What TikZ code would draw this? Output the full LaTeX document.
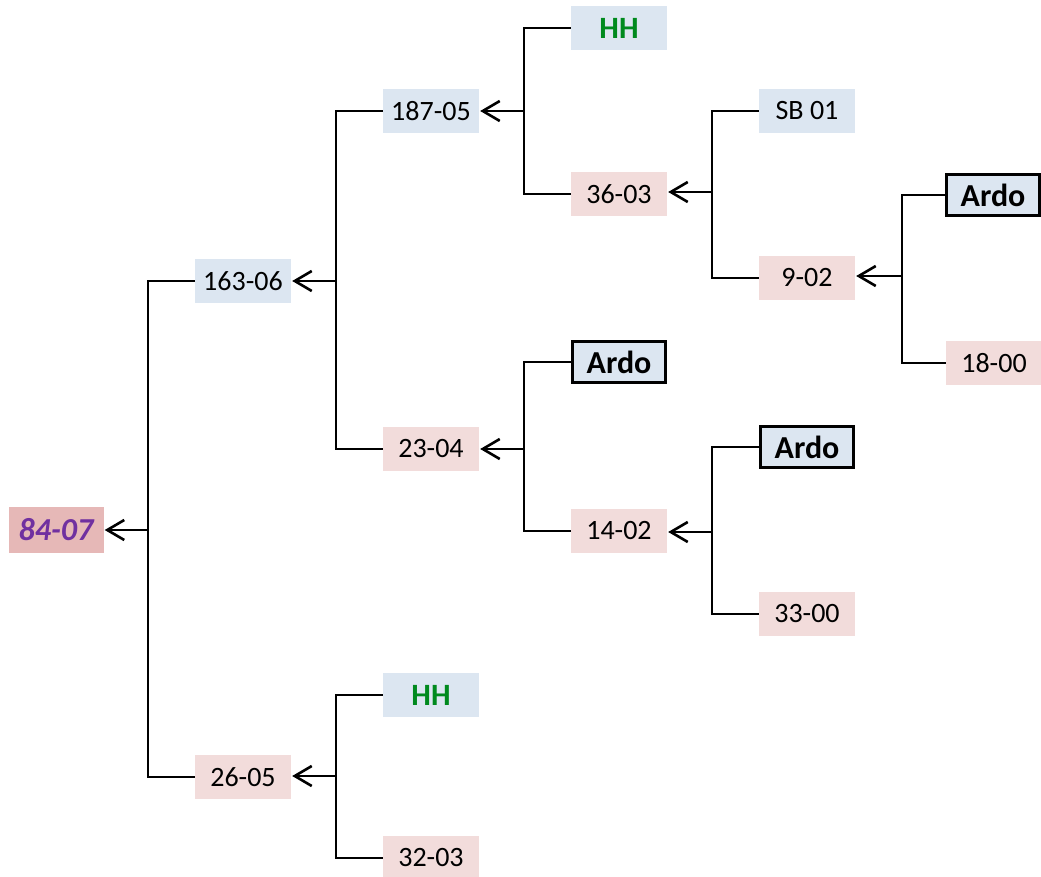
\documentclass[tikz,border=0pt]{standalone}
\usepackage{fontspec}
\setmainfont{Carlito}
\usetikzlibrary{arrows.meta}
\definecolor{lblue}{HTML}{DCE6F1}
\definecolor{lpink}{HTML}{F2DCDB}
\definecolor{rpink}{HTML}{E6B8B7}
\definecolor{hhgreen}{HTML}{008A1E}
\definecolor{rootpurple}{HTML}{7030A0}
\tikzset{
  box/.style={minimum width=96pt, minimum height=44pt, inner sep=0pt, font=\fontsize{28}{30}\selectfont},
  bbox/.style={box, fill=lblue},
  pbox/.style={box, fill=lpink},
  ardo/.style={box, fill=lblue, draw=black, line width=2.5pt, minimum width=93pt, minimum height=41pt, font=\fontsize{32}{34}\selectfont\bfseries},
  hh/.style={box, fill=lblue, text=hhgreen, font=\fontsize{31}{34}\selectfont\bfseries},
  link/.style={line width=2pt},
  arr/.style={line width=2.6pt, -{Straight Barb[length=17pt,width=20pt,line width=2.6pt]}, shorten >=1pt}
}
\begin{document}
\begin{tikzpicture}[x=1pt,y=-1pt]
\useasboundingbox (0,0) rectangle (1041,877);
% nodes
\node[box, fill=rpink, minimum width=95pt, minimum height=46pt, text=rootpurple, font=\fontsize{32}{34}\selectfont\bfseries\itshape] (r) at (56,530) {84-07};
\node[bbox] (a) at (243,281) {163-06};
\node[pbox] (b) at (243,777) {26-05};
\node[bbox] (a1) at (431,111) {187-05};
\node[pbox] (a2) at (431,449) {23-04};
\node[hh] (b1) at (431,695) {HH};
\node[pbox] (b2) at (431,858) {32-03};
\node[hh] (a11) at (619,28) {HH};
\node[pbox] (a12) at (619,194) {36-03};
\node[ardo] (a21) at (619,362) {Ardo};
\node[pbox] (a22) at (619,531) {14-02};
\node[bbox] (a121) at (807,111) {SB 01};
\node[pbox] (a122) at (807,278) {9-02};
\node[ardo] (a221) at (807,447) {Ardo};
\node[pbox] (a222) at (807,614) {33-00};
\node[ardo] (a1221) at (993,195) {Ardo};
\node[pbox] (a1222) at (994,363) {18-00};
% junctions
\coordinate (jr) at (148,530);
\coordinate (ja) at (336,281);
\coordinate (jb) at (336,776);
\coordinate (ja1) at (524,111);
\coordinate (ja2) at (524,449);
\coordinate (ja12) at (712,192);
\coordinate (ja22) at (712,532);
\coordinate (ja122) at (902,276);
% brackets
\foreach \j/\c/\d in {jr/a/b, ja/a1/a2, jb/b1/b2, ja1/a11/a12, ja2/a21/a22, ja12/a121/a122, ja22/a221/a222, ja122/a1221/a1222}{
  \draw[link] (\c.west) -- (\c.west -| \j) -- (\d.west -| \j) -- (\d.west);
}
% arrows
\foreach \j/\p in {jr/r, ja/a, jb/b, ja1/a1, ja2/a2, ja12/a12, ja22/a22, ja122/a122}{
  \draw[arr] (\j) -- (\j -| \p.east);
}
\end{tikzpicture}
\end{document}
